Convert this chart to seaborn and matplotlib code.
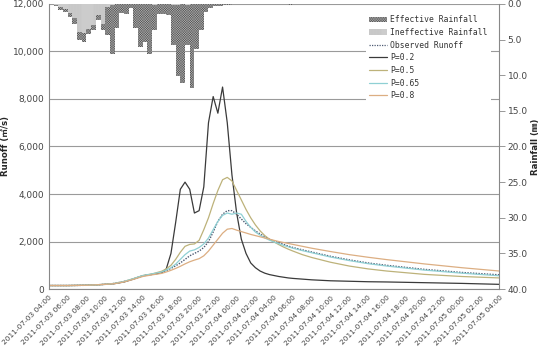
import numpy as np
import pandas as pd
import matplotlib
matplotlib.use("Agg")
import matplotlib.pyplot as plt
import matplotlib.dates as mdates
from matplotlib.patches import Patch
from matplotlib.lines import Line2D
from matplotlib.ticker import FuncFormatter, MultipleLocator
import seaborn as sns

START = pd.Timestamp("2011-07-03 04:00")

# runoff samples, position given as half-hour step from start
steps = [0, 4, 8, 12, 14, 16, 18, 20, 22, 24, 25, 26, 27, 28, 29, 30, 31, 32, 33,
         34, 35, 36, 37, 38, 39, 40, 41, 42, 43, 44, 45, 46, 47, 48, 49, 50, 51,
         52, 54, 56, 60, 64, 68, 72, 80, 88, 96]

observed = [150, 150, 160, 200, 240, 320, 430, 560, 620, 700, 780, 870, 980, 1100,
            1250, 1400, 1500, 1600, 1750, 2000, 2400, 2850, 3150, 3300, 3300, 3150,
            2950, 2750, 2600, 2450, 2320, 2200, 2100, 2020, 1950, 1880, 1810, 1750,
            1650, 1560, 1380, 1230, 1100, 1000, 830, 700, 600]
p02 = [150, 150, 160, 200, 230, 300, 420, 560, 620, 680, 850, 1500, 2800, 4200,
       4500, 4200, 3200, 3300, 4300, 7000, 8100, 7400, 8500, 7000, 4800, 3200,
       2100, 1500, 1100, 900, 760, 670, 610, 570, 530, 500, 470, 450, 420, 390,
       350, 330, 310, 300, 270, 240, 200]
p05 = [150, 150, 160, 200, 240, 320, 440, 570, 640, 750, 850, 1000, 1250, 1550,
       1800, 1880, 1900, 2050, 2500, 3000, 3600, 4150, 4600, 4700, 4550, 4150,
       3750, 3350, 3000, 2700, 2450, 2250, 2100, 1980, 1870, 1770, 1680, 1600,
       1450, 1330, 1130, 970, 850, 760, 620, 530, 470]
p065 = [150, 150, 160, 200, 240, 320, 440, 570, 640, 720, 800, 900, 1050, 1250,
        1450, 1600, 1650, 1750, 1900, 2150, 2500, 2850, 3100, 3200, 3150, 3200,
        3150, 2850, 2600, 2400, 2270, 2150, 2060, 1980, 1910, 1840, 1780, 1720,
        1620, 1530, 1350, 1200, 1070, 970, 800, 670, 560]
p08 = [150, 150, 160, 200, 230, 300, 410, 530, 600, 660, 720, 790, 870, 960, 1060,
       1150, 1220, 1280, 1400, 1600, 1850, 2100, 2350, 2520, 2550, 2480, 2420,
       2360, 2300, 2250, 2200, 2150, 2100, 2050, 2000, 1960, 1920, 1880, 1800,
       1720, 1580, 1450, 1340, 1240, 1060, 900, 760]

# half-hourly rainfall (mm), first bar ends at 05:00
ineffective = [0.2, 0.47, 0.75, 1.3, 2.0, 3.9, 4.1, 3.55, 2.9, 1.5, 2.8, 0.4, 0.2,
               0, 0, 0, 0, 0, 0, 0, 0, 0.15, 0, 0, 0, 0.15, 0.15, 0, 0.15, 0, 0,
               0, 0, 0, 0, 0, 0, 0, 0, 0, 0, 0, 0, 0, 0, 0, 0, 0, 0, 0, 0]
effective = [0.1, 0.38, 0.45, 0.5, 0.8, 1.1, 1.3, 0.65, 0.8, 0.7, 0.9, 3.9, 6.9,
             3.4, 1.3, 1.4, 0.6, 3.4, 6.0, 5.3, 7.0, 3.45, 1.4, 1.4, 1.5, 5.65,
             9.95, 11.1, 5.65, 11.8, 6.3, 3.6, 1.1, 0.6, 0.3, 0.3, 0.2, 0.2, 0, 0,
             0, 0, 0, 0, 0, 0, 0, 0, 0, 0, 0.15]

series = {
    "Observed Runoff": observed,
    "P=0.2": p02,
    "P=0.5": p05,
    "P=0.65": p065,
    "P=0.8": p08,
}
colors = {
    "Observed Runoff": "#4d5a72",
    "P=0.2": "#3a3a3a",
    "P=0.5": "#bdb27a",
    "P=0.65": "#8fd0d4",
    "P=0.8": "#dcae82",
}
EFF_STYLE = dict(facecolor="#4f4f4f", edgecolor="#a8a8a8", hatch="x" * 14, linewidth=0)
INEFF_STYLE = dict(facecolor="#f6f6f6", edgecolor="#9a9a9a", hatch="|" * 16, linewidth=0)
CJK = ["DejaVu Sans", "Noto Sans CJK KR"]


def main():
    sns.set_style("white")
    plt.rcParams["font.family"] = CJK
    plt.rcParams["hatch.linewidth"] = 0.35

    times = [START + pd.Timedelta(minutes=30 * s) for s in steps]
    rows = []
    for name, vals in series.items():
        for t, v in zip(times, vals):
            rows.append((t, v, name))
    df = pd.DataFrame(rows, columns=["time", "runoff", "series"])

    fig, ax = plt.subplots(figsize=(5.44, 3.5), dpi=100)
    fig.subplots_adjust(left=0.090, right=0.918, top=0.989, bottom=0.174)

    for name in series:
        sub = df[df.series == name]
        sns.lineplot(
            data=sub, x="time", y="runoff", ax=ax, color=colors[name],
            linewidth=0.9 if name != "Observed Runoff" else 1.0,
            linestyle=(0, (1, 1)) if name == "Observed Runoff" else "-",
            legend=False,
        )

    ax.set_xlim(START, START + pd.Timedelta(hours=48))
    ax.set_ylim(0, 12000)
    ax.yaxis.set_major_locator(MultipleLocator(2000))
    ax.yaxis.set_major_formatter(FuncFormatter(lambda v, p: f"{int(v):,}"))
    ax.grid(axis="y", color="#9a9a9a", linewidth=0.8)
    ax.set_axisbelow(True)
    ax.xaxis.set_major_locator(mdates.HourLocator(byhour=range(0, 24, 2)))
    ax.xaxis.set_major_formatter(mdates.DateFormatter("%Y-%m-%d %H:%M"))
    ax.xaxis.set_minor_locator(mdates.MinuteLocator(byminute=[0, 30]))
    ax.tick_params(axis="x", which="both", direction="out", length=2.5,
                   width=0.6, color="#777", labelsize=5.3, labelcolor="#444", pad=1.5)
    ax.tick_params(axis="y", length=0, labelsize=6.5, labelcolor="#444")
    for lab in ax.get_xticklabels():
        lab.set_rotation(45)
        lab.set_ha("right")
        lab.set_rotation_mode("anchor")
    ax.set_xlabel("")
    ax.set_ylabel("Runoff (㎥/s)", fontsize=6.2, fontweight="bold", family=CJK, labelpad=2)
    for side in ["top", "right"]:
        ax.spines[side].set_visible(False)
    for side in ["left", "bottom"]:
        ax.spines[side].set_color("#888")
        ax.spines[side].set_linewidth(0.8)

    # rainfall bars hanging from the top
    ax2 = ax.twinx()
    bar_times = [START + pd.Timedelta(minutes=30 * (i + 1)) for i in range(len(effective))]
    width = 1 / 48
    ax2.bar(bar_times, ineffective, width=width, align="edge", **INEFF_STYLE)
    ax2.bar(bar_times, effective, width=width, align="edge", bottom=ineffective, **EFF_STYLE)
    ax2.set_ylim(40, 0)
    ax2.yaxis.set_major_locator(MultipleLocator(5))
    ax2.yaxis.set_major_formatter(FuncFormatter(lambda v, p: f"{v:.1f}"))
    ax2.tick_params(axis="y", direction="out", length=4, width=0.6, color="#888",
                    labelsize=6.5, labelcolor="#444", pad=2)
    ax2.set_ylabel("Rainfall (㎜)", fontsize=6.2, fontweight="bold", rotation=90,
                   family=CJK, labelpad=2)
    for side in ["top", "left", "bottom"]:
        ax2.spines[side].set_visible(False)
    ax2.spines["right"].set_color("#888")
    ax2.spines["right"].set_linewidth(0.8)

    handles = [
        Patch(**EFF_STYLE),
        Patch(**INEFF_STYLE),
        Line2D([], [], color=colors["Observed Runoff"], linestyle=(0, (1, 1)), linewidth=0.9),
    ] + [Line2D([], [], color=colors[n], linewidth=0.9) for n in ["P=0.2", "P=0.5", "P=0.65", "P=0.8"]]
    labels = ["Effective Rainfall", "Ineffective Rainfall"] + list(series.keys())
    leg = ax2.legend(handles, labels, loc="upper left", bbox_to_anchor=(0.695, 0.985),
                     frameon=True, fancybox=False, framealpha=1, edgecolor="none",
                     facecolor="white", handlelength=2.2, handletextpad=0.4,
                     handleheight=0.7, labelspacing=0.45, borderpad=0.4,
                     prop={"family": "DejaVu Sans Mono", "size": 5.8})
    for t in leg.get_texts():
        t.set_color("#333")

    fig.savefig("out.png", dpi=100)


if __name__ == "__main__":
    main()
